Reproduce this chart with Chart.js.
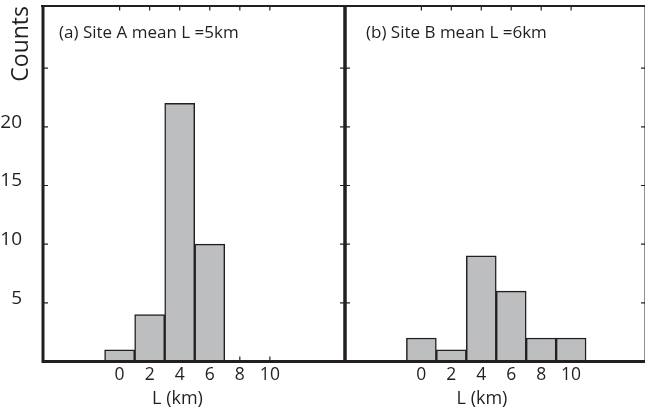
<!DOCTYPE html>
<html>
<head>
<meta charset="utf-8">
<script src="https://cdn.jsdelivr.net/npm/chart.js@4.4.0/dist/chart.umd.min.js"></script>
<style>
  html, body { margin: 0; padding: 0; background: #fff; overflow: hidden; }
  #wrap { position: relative; width: 645px; height: 413px; }
  #siteA { position: absolute; left: 0; top: 0; }
  #siteB { position: absolute; left: 340px; top: 0; }
</style>
</head>
<body>
<div id="wrap">
  <canvas id="siteA" width="347" height="413"></canvas>
  <canvas id="siteB" width="306" height="413"></canvas>
</div>
<script>
// histogram bins (bar centres, km) and counts
const siteABins = [0, 2, 4, 6];
const siteACounts = [1, 4, 22, 10];
const siteBBins = [0, 2, 4, 6, 8, 10];
const siteBCounts = [2, 1, 9, 6, 2, 2];

const xTicks = [0, 2, 4, 6, 8, 10];
const yTicks = [5, 10, 15, 20, 25];
const yLabelled = [5, 10, 15, 20];

const ink = '#231f20';
const barFill = '#bcbec0';
const fontName = '"Open Sans", "Noto Sans", sans-serif';

// frame, inward ticks and the in-plot texts
const framePlugin = {
  id: 'frame',
  beforeDatasetsDraw(chart, args, o) {
    const {ctx, chartArea: a} = chart;
    const xs = chart.scales.x, ys = chart.scales.y;
    ctx.save();
    ctx.strokeStyle = ink;
    ctx.lineWidth = 1.2;
    ctx.beginPath();
    xTicks.forEach(v => {
      const px = xs.getPixelForValue(v);
      ctx.moveTo(px, a.top); ctx.lineTo(px, a.top + 4.5);
      ctx.moveTo(px, a.bottom); ctx.lineTo(px, a.bottom - 5);
    });
    yTicks.forEach(v => {
      const py = ys.getPixelForValue(v);
      ctx.moveTo(a.left, py); ctx.lineTo(a.left + 5, py);
      ctx.moveTo(a.right, py); ctx.lineTo(a.right - 5, py);
    });
    ctx.stroke();
    ctx.restore();
  },
  afterDatasetsDraw(chart, args, o) {
    const {ctx, chartArea: a} = chart;
    ctx.save();
    ctx.strokeStyle = ink;
    ctx.lineWidth = 2;
    ctx.beginPath();
    ctx.moveTo(a.left - 2, a.top); ctx.lineTo(a.right + 2, a.top);
    ctx.stroke();
    ctx.lineWidth = 3;
    ctx.beginPath();
    ctx.moveTo(a.left, a.top); ctx.lineTo(a.left, a.bottom);
    ctx.moveTo(a.right, a.top); ctx.lineTo(a.right, a.bottom);
    ctx.moveTo(a.left - 1.5, a.bottom); ctx.lineTo(a.right + 1.5, a.bottom);
    ctx.stroke();

    ctx.fillStyle = ink;
    ctx.textBaseline = 'middle';
    ctx.textAlign = 'left';
    ctx.font = '17px ' + fontName;
    ctx.fillText(o.label, a.left + o.labelDx, 33);
    ctx.textAlign = 'center';
    ctx.font = '18px ' + fontName;
    ctx.fillText('L (km)', chart.scales.x.getPixelForValue(o.titleAt), 399);
    ctx.restore();
  }
};

function noPad(s) {
  s.paddingTop = 0; s.paddingBottom = 0; s.paddingLeft = 0; s.paddingRight = 0;
}

function makeChart(id, bins, counts, opts) {
  return new Chart(document.getElementById(id), {
    type: 'bar',
    data: {
      datasets: [{
        data: bins.map((b, i) => ({x: b, y: counts[i]})),
        backgroundColor: barFill,
        borderColor: ink,
        borderWidth: 1.5,
        borderSkipped: 'start',
        barPercentage: 1,
        categoryPercentage: 1
      }]
    },
    options: {
      responsive: false,
      devicePixelRatio: 1,
      animation: false,
      layout: { padding: opts.padding },
      plugins: {
        legend: { display: false },
        tooltip: { enabled: false },
        frame: { label: opts.label, labelDx: opts.labelDx, titleAt: opts.titleAt }
      },
      scales: {
        x: {
          type: 'linear',
          offset: false,
          min: -5.1,
          max: 15,
          grid: { display: false },
          border: { display: false },
          afterBuildTicks: s => { s.ticks = xTicks.map(v => ({value: v})); },
          afterFit: s => { s.height = 51.5; noPad(s); },
          ticks: {
            padding: -5,
            maxRotation: 0,
            autoSkip: false,
            color: ink,
            font: { family: fontName, size: 17.5 }
          }
        },
        y: {
          min: 0,
          max: 30.3,
          grid: { display: false },
          border: { display: false },
          afterBuildTicks: s => { s.ticks = yTicks.map(v => ({value: v})); },
          afterFit: s => { s.width = opts.yWidth; noPad(s); },
          title: {
            display: opts.showY,
            text: 'Counts',
            align: 'end',
            color: ink,
            padding: { top: 8, bottom: 0 },
            font: { family: fontName, size: 23 }
          },
          ticks: {
            display: opts.showY,
            padding: 13,
            color: ink,
            font: { family: fontName, size: 19, lineHeight: '9px' },
            // second empty line lifts the number a little above its tick, as in the print
            callback: v => yLabelled.includes(v) ? [String(v), ''] : ''
          }
        }
      }
    },
    plugins: [framePlugin]
  });
}

makeChart('siteA', siteABins, siteACounts, {
  label: '(a) Site A mean L =5km', labelDx: 16, titleAt: 3.85,
  padding: { top: 6, right: 2, left: 0, bottom: 0 }, yWidth: 43, showY: true
});
makeChart('siteB', siteBBins, siteBCounts, {
  label: '(b) Site B mean L =6km', labelDx: 21, titleAt: 4.05,
  padding: { top: 6, right: 0, left: 5, bottom: 0 }, yWidth: 0, showY: false
});
</script>
</body>
</html>
